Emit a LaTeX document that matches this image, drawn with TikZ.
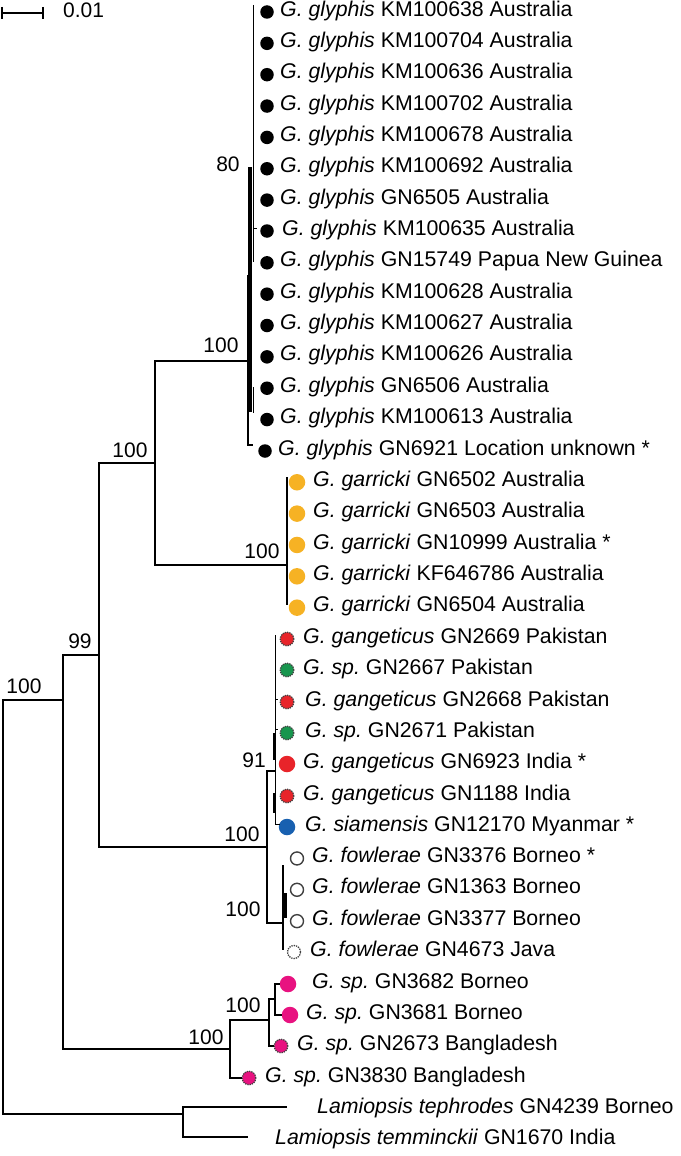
\documentclass[tikz,border=0pt]{standalone}
\usepackage{fontspec}
\setmainfont{Liberation Sans}
\usepackage{tikz}
\usetikzlibrary{positioning}
\definecolor{garr}{RGB}{246,178,36}
\definecolor{gang}{RGB}{232,36,42}
\definecolor{spgrn}{RGB}{24,150,78}
\definecolor{siam}{RGB}{24,96,176}
\definecolor{magen}{RGB}{232,18,128}
\frenchspacing

\begin{document}
\begin{tikzpicture}[x=1pt, y=-1pt,
      br/.style={line width=1.5pt},
      fine/.style={line width=1pt},
      tip/.style={anchor=mid west, inner sep=0pt, yshift=-1.5pt, font=\fontsize{21.3}{24}\selectfont},
      boot/.style={inner sep=0pt, font=\fontsize{21}{24}\selectfont},
      blk/.style={circle, fill=black, inner sep=0pt, minimum size=13.5pt},
      big/.style={circle, fill=#1, inner sep=0pt, minimum size=16.5pt},
      dotc/.style={circle, fill=#1, draw=black!75, densely dotted, line width=1.3pt, inner sep=0pt, minimum size=13.5pt},
      opn/.style={circle, draw=black!75, line width=1.4pt, inner sep=0pt, minimum size=13pt},
      opd/.style={circle, draw=black!75, densely dotted, line width=1.3pt, inner sep=0pt, minimum size=13pt}]
    \useasboundingbox (0,0) rectangle (680,1156);
    % scale bar
    \coordinate (sbL) at (2,13); \coordinate (sbR) at (43,13);
    \draw[br] (sbL) -- (sbR);
    \draw[br] ([yshift=6pt]sbL) -- ([yshift=-6pt]sbL); \draw[br] ([yshift=6pt]sbR) -- ([yshift=-6pt]sbR);
    \node[tip, font=\fontsize{21}{24}\selectfont] (sbT) at (63,13) {0.01};
    % internal nodes
    \coordinate (root) at (3,907);
    \coordinate (nU) at (63,700);   \coordinate (nL) at (183,1114);
    \coordinate (n99) at (99,655);  \coordinate (nSp) at (230,1049);
    \coordinate (nGG) at (155,463); \coordinate (nGF) at (267,847);
    \coordinate (nGly) at (248,361); \coordinate (nGar) at (287,565);
    \coordinate (nGan) at (275,771); \coordinate (nFow) at (283,923);
    \coordinate (nBor) at (269,1020); \coordinate (nB2) at (275,999);
    \draw[br] (root) |- (nU); \draw[br] (root) |- (nL);
    \draw[br] (nU) |- (n99); \draw[br] (nU) |- (nSp);
    \draw[br] (n99) |- (nGG); \draw[br] (n99) |- (nGF);
    \draw[br] (nGG) |- (nGly); \draw[br] (nGG) |- (nGar);
    \draw[br] (nGF) |- (nGan); \draw[br] (nGF) |- (nFow);
    \draw[br] (nSp) |- (nBor);
    % glyphis
    \foreach \i/\lab in {0/KM100638 Australia, 1/KM100704 Australia, 2/KM100636 Australia,
        3/KM100702 Australia, 4/KM100678 Australia, 5/KM100692 Australia, 6/GN6505 Australia,
        8/GN15749 Papua New Guinea, 9/KM100628 Australia, 10/KM100627 Australia,
        11/KM100626 Australia, 12/GN6506 Australia, 13/KM100613 Australia} {
      \node[blk] (m\i) at (267,{12+31.35*\i}) {};
      \node[tip] (t\i) at (280,{12+31.35*\i}) {\itshape G. glyphis\/ \upshape\lab};
    }
    \node[blk] (m7) at (267,231) {};
    \node[tip] (t7) at (282,231) {\itshape G. glyphis\/ \upshape KM100635 Australia};
    \node[blk] (m14) at (265,451) {};
    \node[tip] (t14) at (278,451) {\itshape G. glyphis\/ \upshape GN6921 Location unknown *};
    \coordinate (n8T) at (253,5); \coordinate (n8B) at (253,262);
    \coordinate (n80T) at (250,167); \coordinate (n80B) at (250,412);
    \coordinate (glA) at (248,275); \coordinate (glZ) at (248,445); \coordinate (glZe) at (253,445);
    \draw[fine] (n8T) -- (n8B); \draw[fine] (253,228) -- (257,228);
    \draw[line width=3.5pt] (n80T) -- (n80B);
    \draw[fine] (253,387) -- (253,413);
    \draw[br] (glA) -- (glZ) -- (glZe);
    \node[boot] (b80) at (228,164) {80};
    \node[boot] (bGly) at (221,345) {100};
    % garricki
    \foreach \i/\lab in {15/GN6502 Australia, 16/GN6503 Australia, 17/GN10999 Australia *,
        18/KF646786 Australia, 19/GN6504 Australia} {
      \node[big=garr] (m\i) at (297,{12+31.35*\i}) {};
      \node[tip] (t\i) at (313,{12+31.35*\i}) {\itshape G. garricki\/ \upshape\lab};
    }
    \coordinate (garT) at (287,477); \coordinate (garB) at (287,605);
    \draw[br] (garT) -- (garB);
    \node[boot] (bGar) at (262,551) {100};
    \node[boot] (bGG) at (130,450) {100};
    \node[boot] (b99) at (80,641) {99};
    \node[boot] (bU) at (24,686) {100};
    % gangeticus, sp., siamensis
    \node[dotc=gang] (m20) at (287,639) {};
    \node[tip] (t20) at (303,639) {\itshape G. gangeticus\/ \upshape GN2669 Pakistan};
    \node[dotc=spgrn] (m21) at (287,670) {};
    \node[tip] (t21) at (303,670) {\itshape G. sp.\/ \upshape GN2667 Pakistan};
    \node[dotc=gang] (m22) at (287,702) {};
    \node[tip] (t22) at (305,702) {\itshape G. gangeticus\/ \upshape GN2668 Pakistan};
    \node[dotc=spgrn] (m23) at (287,733) {};
    \node[tip] (t23) at (305,733) {\itshape G. sp.\/ \upshape GN2671 Pakistan};
    \node[big=gang] (m24) at (287,764) {};
    \node[tip] (t24) at (303,764) {\itshape G. gangeticus\/ \upshape GN6923 India *};
    \node[dotc=gang] (m25) at (287,796) {};
    \node[tip] (t25) at (303,796) {\itshape G. gangeticus\/ \upshape GN1188 India};
    \node[big=siam] (m26) at (287,827) {};
    \node[tip] (t26) at (305,827) {\itshape G. siamensis\/ \upshape GN12170 Myanmar *};
    \coordinate (ganT) at (275,635); \coordinate (ganB) at (275,824); \coordinate (ganBe) at (280,824);
    \draw[fine] (ganT) -- (ganB) -- (ganBe);
    \draw[fine] (275,699) -- (278,699); \draw[fine] (275,729) -- (278,729);
    \draw[line width=3pt] (274,733) -- (274,760); \draw[line width=3pt] (274,793) -- (274,813);
    \node[boot] (b91) at (254,760) {91};
    \node[boot] (bGF) at (242,834) {100};
    % fowlerae
    \foreach \i/\lab in {27/GN3376 Borneo *, 28/GN1363 Borneo, 29/GN3377 Borneo} {
      \node[opn] (m\i) at (297,{12+31.35*\i}) {};
      \node[tip] (t\i) at (312,{12+31.35*\i}) {\itshape G. fowlerae\/ \upshape\lab};
    }
    \node[opd] (m30) at (294,952) {};
    \node[tip] (t30) at (310,952) {\itshape G. fowlerae\/ \upshape GN4673 Java};
    \coordinate (fowT) at (283,865); \coordinate (fowB) at (283,950);
    \draw[br] (fowT) -- (fowB);
    \draw[line width=3pt] (285,893) -- (285,918);
    \node[boot] (bFow) at (243,909) {100};
    % Borneo / Bangladesh
    \node[big=magen] (m31) at (288,984) {};
    \node[tip] (t31) at (312,984) {\itshape G. sp.\/ \upshape GN3682 Borneo};
    \node[big=magen] (m32) at (290,1015) {};
    \node[tip] (t32) at (306,1015) {\itshape G. sp.\/ \upshape GN3681 Borneo};
    \node[dotc=magen] (m33) at (281,1046) {};
    \node[tip] (t33) at (297,1046) {\itshape G. sp.\/ \upshape GN2673 Bangladesh};
    \node[dotc=magen] (m34) at (249,1078) {};
    \node[tip] (t34) at (265,1078) {\itshape G. sp.\/ \upshape GN3830 Bangladesh};
    \draw[br] (nSp) |- (m34.west);
    \draw[br] (nBor) |- (nB2); \draw[br] (nBor) |- (m33.west);
    \draw[br] (nB2) |- (m31.west); \draw[br] (nB2) |- (m32.west);
    \node[boot] (bSp) at (206,1037) {100};
    \node[boot] (bBor) at (243,1005) {100};
    % Lamiopsis
    \coordinate (lam1) at (287,1107); \coordinate (lam2) at (248,1137);
    \draw[br] (nL) |- (lam1); \draw[br] (nL) |- (lam2);
    \node[tip] (t35) at (317,1109) {\itshape Lamiopsis tephrodes\/ \upshape GN4239 Borneo};
    \node[tip] (t36) at (275,1140) {\itshape Lamiopsis temminckii\/ \upshape GN1670 India};
  \end{tikzpicture}
\end{document}
